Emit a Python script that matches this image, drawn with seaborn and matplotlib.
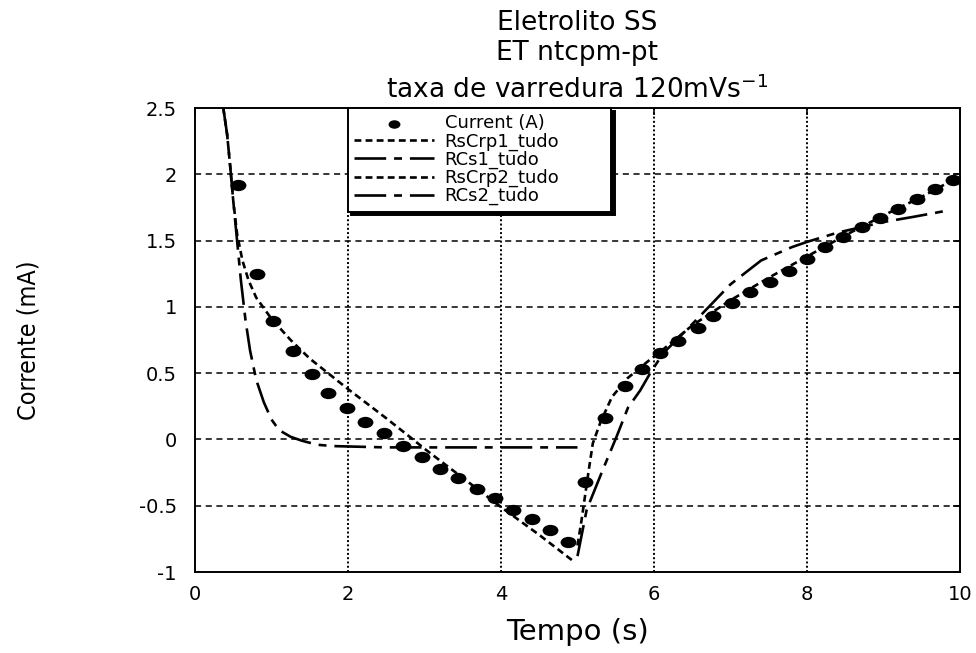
import matplotlib
matplotlib.use("Agg")
import matplotlib.pyplot as plt
from matplotlib.path import Path
from matplotlib.transforms import Affine2D
import seaborn as sns

# Measured current over one voltammetric cycle
tempo = [0.56, 0.81, 1.02, 1.28, 1.53, 1.74, 1.99, 2.22, 2.47, 2.72,
         2.97, 3.20, 3.44, 3.69, 3.92, 4.16, 4.41, 4.64, 4.88, 5.10,
         5.36, 5.62, 5.84, 6.08, 6.31, 6.58, 6.77, 7.02, 7.25, 7.52,
         7.76, 8.00, 8.24, 8.47, 8.72, 8.95, 9.19, 9.44, 9.67, 9.91]
corrente = [1.92, 1.25, 0.89, 0.67, 0.49, 0.35, 0.24, 0.13, 0.05, -0.05,
            -0.13, -0.22, -0.29, -0.37, -0.44, -0.53, -0.60, -0.68, -0.77, -0.32,
            0.16, 0.40, 0.53, 0.65, 0.74, 0.84, 0.93, 1.03, 1.11, 1.19,
            1.27, 1.36, 1.45, 1.53, 1.60, 1.67, 1.74, 1.81, 1.89, 1.96]

# Fitted models, cathodic half (RsCrp1, RCs1)
rscrp1_t = [0.37, 0.42, 0.46, 0.50, 0.55, 0.62, 0.70, 0.80, 1.00, 1.25,
            1.50, 2.00, 2.50, 2.85, 3.00, 3.50, 4.00, 4.50, 4.95]
rscrp1_i = [2.50, 2.30, 2.06, 1.80, 1.55, 1.35, 1.20, 1.07, 0.91, 0.75,
            0.61, 0.38, 0.16, 0.00, -0.07, -0.29, -0.51, -0.72, -0.92]
rcs1_t = [0.37, 0.42, 0.46, 0.50, 0.55, 0.60, 0.66, 0.72, 0.80, 0.90,
          1.00, 1.10, 1.25, 1.40, 1.60, 1.80, 2.50, 5.00]
rcs1_i = [2.50, 2.30, 2.06, 1.80, 1.50, 1.20, 0.90, 0.67, 0.45, 0.28,
          0.15, 0.07, 0.02, -0.01, -0.04, -0.05, -0.06, -0.06]

# Fitted models, anodic half (RsCrp2, RCs2)
rscrp2_t = [5.00, 5.05, 5.10, 5.15, 5.20, 5.30, 5.45, 5.65, 5.90, 6.10,
            6.50, 7.00, 7.50, 8.00, 8.50, 9.00, 9.50, 9.95]
rscrp2_i = [-0.80, -0.62, -0.42, -0.22, -0.03, 0.13, 0.32, 0.46, 0.58, 0.67,
            0.86, 1.05, 1.22, 1.38, 1.54, 1.69, 1.83, 1.97]
rcs2_t = [5.00, 5.12, 5.33, 5.51, 5.66, 5.82, 5.95, 6.12, 6.50, 7.00,
          7.40, 7.80, 8.00, 8.40, 9.00, 9.40, 9.87]
rcs2_i = [-0.88, -0.53, -0.23, 0.02, 0.24, 0.37, 0.50, 0.65, 0.87, 1.17,
          1.35, 1.45, 1.49, 1.56, 1.64, 1.68, 1.73]

x_ticks = [0, 2, 4, 6, 8, 10]
y_ticks = [-1, -0.5, 0, 0.5, 1, 1.5, 2, 2.5]
y_tick_labels = ["-1", "-0.5", "0", "0.5", "1", "1.5", "2", "2.5"]

sns.set_style("white")
plt.rcParams["font.family"] = ["DejaVu Sans"]
plt.rcParams["axes.unicode_minus"] = False
plt.rcParams["text.color"] = "black"
plt.rcParams["axes.labelcolor"] = "black"

fig = plt.figure(figsize=(9.76, 6.53), dpi=100)
ax = fig.add_axes([0.1998, 0.1240, 0.7838, 0.7106])

# wide elliptical dot
dot = Path.unit_circle().transformed(Affine2D().scale(1.4, 1.0))

short_dash = (0, (2.6, 1.6))
dash_dot = (0, (12, 3, 3, 3))

sns.lineplot(x=rscrp1_t, y=rscrp1_i, sort=False, estimator=None, ax=ax,
             color="black", lw=1.9, linestyle=short_dash, legend=False)
sns.lineplot(x=rcs1_t, y=rcs1_i, sort=False, estimator=None, ax=ax,
             color="black", lw=1.9, linestyle=dash_dot, legend=False)
sns.lineplot(x=rscrp2_t, y=rscrp2_i, sort=False, estimator=None, ax=ax,
             color="black", lw=1.9, linestyle=short_dash, legend=False)
sns.lineplot(x=rcs2_t, y=rcs2_i, sort=False, estimator=None, ax=ax,
             color="black", lw=1.9, linestyle=dash_dot, legend=False)
sns.scatterplot(x=tempo, y=corrente, ax=ax, marker=dot, s=130,
                color="black", linewidth=0, legend=False, zorder=3)

lines = ax.get_lines()
dots = ax.collections[-1]

ax.set_xlim(0, 10)
ax.set_ylim(-1, 2.5)
ax.set_xticks(x_ticks)
ax.set_xticklabels([str(v) for v in x_ticks])
ax.set_yticks(y_ticks)
ax.set_yticklabels(y_tick_labels)

# grid: dashed horizontals, dotted verticals
for yv in y_ticks[1:-1]:
    ax.axhline(yv, color="black", lw=1.1, linestyle=(0, (4, 3)), zorder=0.5)
for xv in x_ticks[1:-1]:
    ax.axvline(xv, color="black", lw=1.4, linestyle=(0, (1, 1.2)), zorder=0.5)

for side in ["left", "right", "top", "bottom"]:
    ax.spines[side].set_visible(True)
    ax.spines[side].set_color("black")
    ax.spines[side].set_linewidth(1.4)

ax.tick_params(axis="both", which="major", direction="in", length=5, width=1.2,
               top=True, right=True, colors="black", labelsize=14)
ax.tick_params(axis="y", pad=13)
ax.tick_params(axis="x", pad=9)

ax.set_xlabel("Tempo (s)", fontsize=21, color="black")
ax.xaxis.set_label_coords(0.5, -0.10)
fig.text(0.029, 0.479, "Corrente (mA)", rotation=90, ha="center", va="center",
         fontsize=18, family="DejaVu Sans", stretch="condensed", color="black")

cx = 0.1998 + 0.7838 / 2
fig.text(cx, 0.954, "Eletrolito SS", ha="center", va="baseline", fontsize=19)
fig.text(cx, 0.908, "ET ntcpm-pt", ha="center", va="baseline", fontsize=19)
fig.text(cx, 0.850, "taxa de varredura 120mVs$^{\\mathregular{-1}}$",
         ha="center", va="baseline", fontsize=19)

handles = [dots, lines[0], lines[1], lines[2], lines[3]]
labels = ["Current (A)", "RsCrp1_tudo", "RCs1_tudo", "RsCrp2_tudo", "RCs2_tudo"]
leg = ax.legend(handles, labels, loc="upper left",
                bbox_to_anchor=(0.2, 0.0, 0.344, 1.0), mode="expand",
                fontsize=13, frameon=True, fancybox=False,
                shadow={"ox": 2.5, "oy": -2.5, "facecolor": "black",
                        "edgecolor": "black", "alpha": 1},
                borderpad=0.35, labelspacing=0.0, handlelength=4.4,
                handletextpad=0.6, borderaxespad=0.0, markerscale=0.75)
leg.get_frame().set_edgecolor("black")
leg.get_frame().set_linewidth(1.4)
leg.get_frame().set_facecolor("white")
leg.get_frame().set_alpha(1)
leg.set_zorder(5)

fig.savefig("out.png", dpi=100)
